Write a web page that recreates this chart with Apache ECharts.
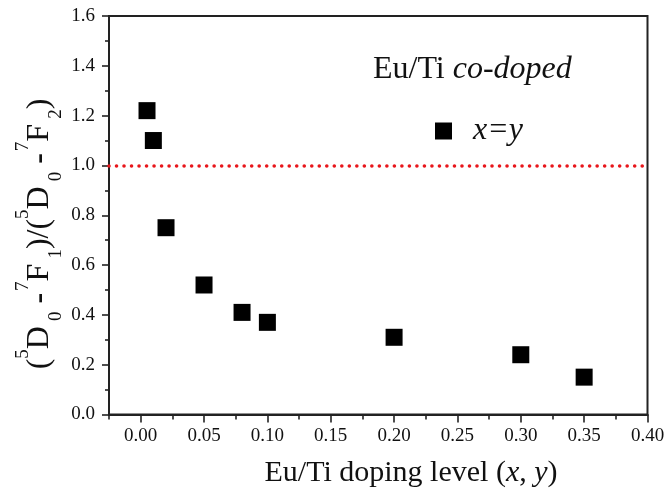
<!DOCTYPE html>
<html>
<head>
<meta charset="utf-8">
<script src="https://cdn.jsdelivr.net/npm/echarts@6/dist/echarts.min.js"></script>
<style>html,body{margin:0;padding:0;background:#fff;}#c{width:669px;height:495px;}</style>
</head>
<body>
<div id="c"></div>
<script>
// Data
var dopingLevel = [0.005, 0.01, 0.02, 0.05, 0.08, 0.10, 0.20, 0.30, 0.35];
var ratio       = [1.22, 1.10, 0.75, 0.52, 0.41, 0.37, 0.31, 0.24, 0.15];
var seriesName = 'x=y';
var referenceLevel = 1.0;
var xMajorTicks = [0, 0.05, 0.10, 0.15, 0.20, 0.25, 0.30, 0.35, 0.40];
var xMinorTicks = [-0.025, 0.025, 0.075, 0.125, 0.175, 0.225, 0.275, 0.325, 0.375];
var annotation = ['Eu/Ti ', 'co-doped'];

var FONT = '"Liberation Serif", "DejaVu Serif", serif';
var chart = echarts.init(document.getElementById('c'), null, {renderer: 'canvas'});

var pts = dopingLevel.map(function (x, i) { return [x, ratio[i]]; });

var option = {
  animation: false,
  backgroundColor: '#fff',
  grid: {left: 109, right: 21.5, top: 16, bottom: 80.5, show: true, borderColor: '#222', borderWidth: 2, containLabel: false},
  title: {
    left: 373, top: 52, padding: 0,
    text: '{n|' + annotation[0] + '}{i|' + annotation[1] + '}',
    textStyle: {
      fontWeight: 'normal',
      rich: {
        n: {fontFamily: FONT, fontSize: 32, fontWeight: 'normal', color: '#111', lineHeight: 36},
        i: {fontFamily: FONT, fontSize: 32, fontWeight: 'normal', fontStyle: 'italic', color: '#111', lineHeight: 36}
      }
    }
  },
  legend: {
    left: 435, top: 115, padding: 0,
    itemWidth: 17, itemHeight: 17,
    icon: 'rect',
    data: [seriesName],
    formatter: function (n) { return '{t|' + n + '}'; },
    textStyle: {
      rich: {t: {fontFamily: FONT, fontSize: 32, fontStyle: 'italic', color: '#111', padding: [0, 0, 0, 16]}}
    }
  },
  xAxis: [{
    type: 'value', min: -0.025, max: 0.40, position: 'bottom',
    axisLine: {show: true, onZero: false, lineStyle: {color: '#222', width: 2}},
    axisTick: {show: true, customValues: xMajorTicks, length: 8, lineStyle: {color: '#222', width: 1.6}},
    axisLabel: {show: true, customValues: xMajorTicks, margin: 12, fontFamily: FONT, fontSize: 19, color: '#111',
      formatter: function (v) { return v.toFixed(2); }},
    splitLine: {show: false}
  }, {
    type: 'value', min: -0.025, max: 0.40, position: 'bottom',
    axisLine: {show: false, onZero: false},
    axisTick: {show: true, customValues: xMinorTicks, length: 5, lineStyle: {color: '#222', width: 1.6}},
    axisLabel: {show: false},
    splitLine: {show: false}
  }],
  yAxis: {
    type: 'value', min: 0, max: 1.6, interval: 0.2,
    axisLine: {show: true, onZero: false, lineStyle: {color: '#222', width: 2}},
    axisTick: {show: true, length: 7, lineStyle: {color: '#222', width: 1.6}},
    minorTick: {show: true, splitNumber: 2, length: 4, lineStyle: {color: '#222', width: 1.6}},
    axisLabel: {margin: 14, fontFamily: FONT, fontSize: 19, color: '#111',
      formatter: function (v) { return v.toFixed(1); }},
    splitLine: {show: false},
    minorSplitLine: {show: false}
  },
  series: [{
    name: seriesName,
    type: 'scatter',
    symbol: 'rect',
    symbolSize: 17,
    itemStyle: {color: '#000', opacity: 1},
    data: pts,
    markLine: {
      silent: true,
      symbol: 'none',
      label: {show: false},
      lineStyle: {color: '#e8161b', width: 3.6, type: [0.01, 7.5], cap: 'round', opacity: 1},
      data: [{yAxis: referenceLevel}]
    }
  }],
  graphic: [{
    type: 'text',
    x: 40, y: 234, rotation: Math.PI / 2,
    style: {
      text: '{m|(}{sup|5}{m|D}{sub|0}{m| }{b|-}{sup|7}{m|F}{sub|1}{m|)/(}{sup|5}{m|D}{sub|0}{m| }{b|-}{sup|7}{m|F}{sub|2}{m|)}',
      align: 'center', verticalAlign: 'middle',
      fill: '#111',
      rich: {
        m: {fontFamily: FONT, fontSize: 32, lineHeight: 52, fill: '#111'},
        b: {fontFamily: FONT, fontSize: 32, fontWeight: 'bold', lineHeight: 52, fill: '#111', padding: [0, 2, 0, 0]},
        sup: {fontFamily: FONT, fontSize: 19, lineHeight: 19, verticalAlign: 'top', fill: '#111'},
        sub: {fontFamily: FONT, fontSize: 19, lineHeight: 19, verticalAlign: 'bottom', fill: '#111', padding: [0, 0, 0, 5]}
      }
    }
  }, {
    type: 'text',
    x: 411, y: 473,
    style: {
      text: '{n|Eu/Ti doping level (}{i|x}{n|, }{i|y}{n|)}',
      align: 'center', verticalAlign: 'middle',
      fill: '#111',
      rich: {
        n: {fontFamily: FONT, fontSize: 30, fill: '#111'},
        i: {fontFamily: FONT, fontSize: 30, fontStyle: 'italic', fill: '#111'}
      }
    }
  }]
};
chart.setOption(option);
</script>
</body>
</html>
